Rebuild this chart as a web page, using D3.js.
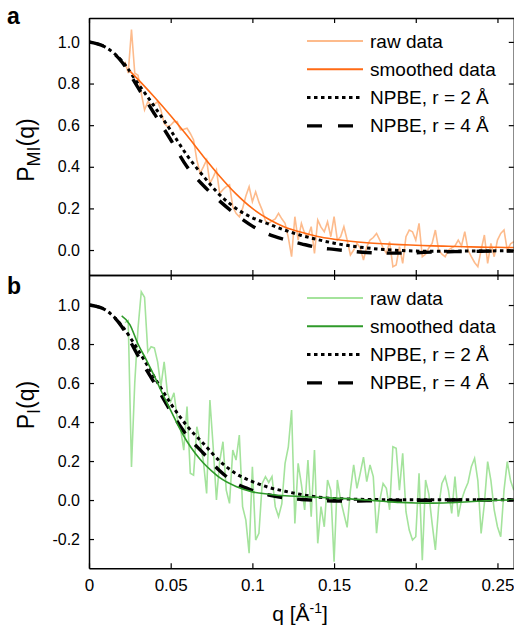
<!DOCTYPE html>
<html>
<head>
<meta charset="utf-8">
<script src="https://cdnjs.cloudflare.com/ajax/libs/d3/7.8.5/d3.min.js"></script>
<style>
  body { margin: 0; background: #fff; }
  svg { display: block; font-family: "Liberation Sans", Arial, sans-serif; }
</style>
</head>
<body>
<div id="chart"></div>
<script>
// model curves (NPBE), read every 0.01 in q
const qModel = [0, 0.01, 0.02, 0.03, 0.04, 0.05, 0.06, 0.07, 0.08, 0.09, 0.10, 0.11, 0.12, 0.13,
  0.14, 0.15, 0.16, 0.17, 0.18, 0.19, 0.20, 0.21, 0.22, 0.23, 0.24, 0.25, 0.26];

const r2A = [1.0, 0.975, 0.91, 0.80, 0.69, 0.575, 0.455, 0.355, 0.265, 0.20, 0.155, 0.125, 0.095, 0.07,
  0.05, 0.033, 0.02, 0.01, 0.003, -0.002, -0.005, -0.006, -0.006, -0.005, -0.005, -0.004, -0.004];
const r4A = [1.0, 0.975, 0.905, 0.78, 0.655, 0.53, 0.40, 0.31, 0.235, 0.17, 0.115, 0.075, 0.05, 0.03,
  0.012, 0.003, -0.005, -0.012, -0.015, -0.015, -0.013, -0.01, -0.008, -0.007, -0.006, -0.005, -0.005];

const r2B = [1.0, 0.975, 0.895, 0.77, 0.63, 0.495, 0.38, 0.29, 0.20, 0.135, 0.095, 0.065, 0.045, 0.028,
  0.015, 0.008, 0.005, 0.003, 0.002, 0.001, 0.001, 0.001, 0.002, 0.002, 0.002, 0.002, 0.002];
const r4B = [1.0, 0.975, 0.89, 0.74, 0.60, 0.455, 0.33, 0.24, 0.15, 0.085, 0.05, 0.026, 0.011, 0.003,
  -0.002, -0.005, -0.005, -0.004, -0.003, -0.002, -0.001, -0.001, 0.0, 0.0, 0.0, 0.0, 0.0];

// smoothed data
const qSmoothA = [0.025, 0.03, 0.04, 0.05, 0.06, 0.07, 0.08, 0.09, 0.10, 0.11, 0.12, 0.13, 0.14, 0.15,
  0.16, 0.17, 0.18, 0.19, 0.20, 0.21, 0.22, 0.23, 0.24, 0.25, 0.26];
const smoothA = [0.86, 0.82, 0.735, 0.645, 0.55, 0.45, 0.355, 0.27, 0.20, 0.148, 0.11, 0.085, 0.065, 0.052,
  0.042, 0.035, 0.03, 0.026, 0.023, 0.02, 0.018, 0.016, 0.014, 0.013, 0.012];

const qSmoothB = [0.02, 0.025, 0.03, 0.035, 0.04, 0.045, 0.05, 0.055, 0.06, 0.065, 0.07, 0.075, 0.08, 0.09,
  0.10, 0.11, 0.12, 0.13, 0.14, 0.15, 0.16, 0.17, 0.18, 0.19, 0.20, 0.21, 0.22, 0.23, 0.24, 0.25, 0.26];
const smoothB = [0.944, 0.90, 0.80, 0.72, 0.635, 0.545, 0.46, 0.375, 0.30, 0.24, 0.19, 0.15, 0.115, 0.07,
  0.042, 0.03, 0.022, 0.018, 0.014, 0.01, 0.006, 0.0, -0.006, -0.012, -0.015, -0.016, -0.014, -0.01, -0.005, -0.001, 0.0];

// raw data, one point every 0.002 from q = 0.022
const qRaw = d3.range(120).map(i => 0.022 + i * 0.002);
const rawA = [
  0.905, 0.85, 1.06, 0.85, 0.84, 0.753, 0.673, 0.713, 0.697, 0.70,
  0.713, 0.673, 0.609, 0.593, 0.60, 0.617, 0.617, 0.577, 0.58, 0.585,
  0.56, 0.529, 0.433, 0.369, 0.40, 0.433, 0.32, 0.35, 0.385, 0.272,
  0.29, 0.304, 0.313, 0.208, 0.176, 0.16, 0.2, 0.26, 0.304, 0.232,
  0.28, 0.23, 0.192, 0.14, 0.128, 0.14, 0.15, 0.176, 0.15, 0.128,
  0.06, -0.032, 0.16, 0.048, 0.128, 0.08, 0.064, 0.112, -0.016, 0.144,
  0.11, 0.088, 0.136, 0.064, 0.16, 0.048, 0.064, 0.112, 0.048, -0.024,
  0.0, 0.032, 0.01, -0.048, 0.016, 0.048, 0.06, 0.08, 0.048, 0.01,
  -0.016, 0.04, -0.08, -0.072, 0.016, -0.064, 0.064, 0.096, 0.088, 0.048,
  0.128, -0.032, -0.02, 0.01, 0.032, 0.096, 0.0, -0.02, -0.032, 0.0,
  0.01, 0.02, 0.048, 0.02, 0.088, 0.0, -0.032, -0.06, -0.08, 0.0,
  0.072, -0.064, 0.032, -0.032, 0.048, 0.08, 0.096, 0.0, 0.03, 0.04];
const rawB = [
  0.91, 0.92, 0.17, 0.6, 0.88, 1.068, 1.04, 0.76, 0.786, 0.78,
  0.709, 0.581, 0.709, 0.55, 0.504, 0.55, 0.42, 0.367, 0.256, 0.48,
  0.137, 0.128, 0.376, 0.3, 0.2, 0.034, 0.513, 0.273, 0.0, 0.2,
  0.299, 0.051, -0.017, 0.256, 0.205, 0.333, -0.034, -0.103, -0.273, 0.171,
  -0.205, -0.171, 0.085, 0.12, 0.09, 0.12, -0.034, -0.085, -0.02, 0.188,
  0.273, 0.462, -0.12, 0.188, 0.08, -0.051, 0.205, -0.085, 0.256, -0.222,
  -0.034, -0.137, 0.103, 0.05, -0.316, 0.103, 0.0, -0.07, -0.14, 0.05,
  0.18, 0.06, 0.137, 0.22, 0.094, 0.18, 0.12, -0.17, 0.0, 0.085,
  0.06, -0.05, 0.273, 0.265, 0.05, 0.24, -0.06, -0.154, -0.205, -0.188,
  0.137, -0.308, 0.103, 0.03, -0.12, -0.256, -0.034, 0.085, 0.12, 0.05,
  -0.068, 0.12, -0.085, 0.0, 0.05, 0.09, 0.171, 0.214, 0.1, -0.171,
  -0.017, 0.197, 0.1, -0.05, -0.137, -0.188, 0.05, 0.197, 0.1, 0.05];

const xTicks = [0, 0.05, 0.1, 0.15, 0.2, 0.25];
const yTicksA = [0, 0.2, 0.4, 0.6, 0.8, 1.0];
const yTicksB = [-0.2, 0, 0.2, 0.4, 0.6, 0.8, 1.0];
const legendLabels = ["raw data", "smoothed data", "NPBE, r = 2 \u00C5", "NPBE, r = 4 \u00C5"];

const W = 514, H = 629;
const left = 89, right = 513.8;

var svg = d3.select("#chart").append("svg")
  .attr("width", W)
  .attr("height", H);

var x = d3.scaleLinear().domain([0, 0.26]).range([left, right]);

const panels = [
  { id: "a", top: 18, bottom: 275, yDomain: [-0.12, 1.115], ticks: yTicksA, sub: "MI", titleY: 150,
    raw: rawA, qS: qSmoothA, smooth: smoothA, r2: r2A, r4: r4A, rawColor: "#fdbb8c", smoothColor: "#ff6a14", xlabels: false },
  { id: "b", top: 275, bottom: 568.3, yDomain: [-0.35, 1.154], ticks: yTicksB, sub: "I", titleY: 405,
    raw: rawB, qS: qSmoothB, smooth: smoothB, r2: r2B, r4: r4B, rawColor: "#a4e39c", smoothColor: "#2f9a2a", xlabels: true }
];

panels.forEach(function (p) {
  var y = d3.scaleLinear().domain(p.yDomain).range([p.bottom, p.top]);

  svg.append("clipPath").attr("id", "clip-" + p.id)
    .append("rect")
    .attr("x", left).attr("y", p.top)
    .attr("width", right - left).attr("height", p.bottom - p.top);

  var g = svg.append("g").attr("clip-path", "url(#clip-" + p.id + ")");

  var lineLin = d3.line().x(d => x(d[0])).y(d => y(d[1]));
  var lineSm = d3.line().x(d => x(d[0])).y(d => y(d[1])).curve(d3.curveMonotoneX);

  g.append("path")
    .datum(qRaw.map((q, i) => [q, p.raw[i]]))
    .attr("fill", "none").attr("stroke", p.rawColor).attr("stroke-width", 1.6)
    .attr("d", lineLin);

  g.append("path")
    .datum(qModel.map((q, i) => [q, p.r4[i]]))
    .attr("fill", "none").attr("stroke", "#000").attr("stroke-width", 3.4)
    .attr("stroke-dasharray", "15,15")
    .attr("d", lineSm);

  g.append("path")
    .datum(qModel.map((q, i) => [q, p.r2[i]]))
    .attr("fill", "none").attr("stroke", "#000").attr("stroke-width", 3)
    .attr("stroke-dasharray", "3.5,3.5")
    .attr("d", lineSm);

  g.append("path")
    .datum(p.qS.map((q, i) => [q, p.smooth[i]]))
    .attr("fill", "none").attr("stroke", p.smoothColor).attr("stroke-width", 1.6)
    .attr("d", lineSm);

  // axes, ticks pointing inward on all four sides
  svg.append("g")
    .attr("class", "axis")
    .attr("transform", "translate(" + left + ",0)")
    .call(d3.axisLeft(y).tickValues(p.ticks).tickSize(-5).tickSizeOuter(0).tickPadding(9)
      .tickFormat(d => d.toFixed(1)));
  svg.append("g")
    .attr("class", "axis")
    .attr("transform", "translate(" + right + ",0)")
    .call(d3.axisRight(y).tickValues(p.ticks).tickSize(-5).tickSizeOuter(0).tickFormat(""));
  svg.append("g")
    .attr("class", "axis")
    .attr("transform", "translate(0," + p.top + ")")
    .call(d3.axisTop(x).tickValues(xTicks).tickSize(-5).tickSizeOuter(0).tickFormat(""));
  svg.append("g")
    .attr("class", p.xlabels ? "axis xaxis" : "axis")
    .attr("transform", "translate(0," + p.bottom + ")")
    .call(d3.axisBottom(x).tickValues(xTicks).tickSize(-5).tickSizeOuter(0).tickPadding(11)
      .tickFormat(p.xlabels ? (d => String(d)) : ""));

  // y title with subscript
  var yt = svg.append("text")
    .attr("transform", "translate(34," + p.titleY + ") rotate(-90)")
    .attr("text-anchor", "middle")
    .style("font-size", "23px");
  yt.append("tspan").text("P");
  yt.append("tspan").attr("dy", 6).style("font-size", "18px").text(p.sub);
  yt.append("tspan").attr("dy", -6).text("(q)");

  // panel letter
  svg.append("text")
    .attr("x", 7).attr("y", p.top + (p.id === "a" ? 5.5 : 19))
    .style("font-size", "23px").style("font-weight", "bold")
    .text(p.id);

  // legend
  var styles = [
    { stroke: p.rawColor, width: 2, dash: null },
    { stroke: p.smoothColor, width: 2, dash: null },
    { stroke: "#000", width: 3, dash: "3.5,3.5" },
    { stroke: "#000", width: 3.4, dash: "15,16" }
  ];
  legendLabels.forEach(function (label, i) {
    var ly = p.top + 23 + i * 28.3;
    svg.append("line")
      .attr("x1", 307).attr("x2", 363).attr("y1", ly).attr("y2", ly)
      .attr("stroke", styles[i].stroke).attr("stroke-width", styles[i].width)
      .attr("stroke-dasharray", styles[i].dash);
    svg.append("text")
      .attr("x", 370).attr("y", ly + 6.5)
      .style("font-size", "19px")
      .text(label);
  });
});

svg.selectAll(".axis path").attr("stroke", "#000").attr("stroke-width", 1.5);
svg.selectAll(".axis line").attr("stroke", "#000").attr("stroke-width", 1.2);
svg.selectAll(".axis text").style("font-size", "16px").attr("fill", "#000")
  .style("font-family", "'Liberation Sans', Arial, sans-serif");
svg.selectAll(".xaxis text").style("font-size", "17px");

// x title
var xt = svg.append("text")
  .attr("x", 300).attr("y", 621)
  .attr("text-anchor", "middle")
  .style("font-size", "21px");
xt.append("tspan").text("q [\u00C5");
xt.append("tspan").attr("dy", -8).style("font-size", "14px").text("-1");
xt.append("tspan").attr("dy", 8).text("]");
</script>
</body>
</html>
